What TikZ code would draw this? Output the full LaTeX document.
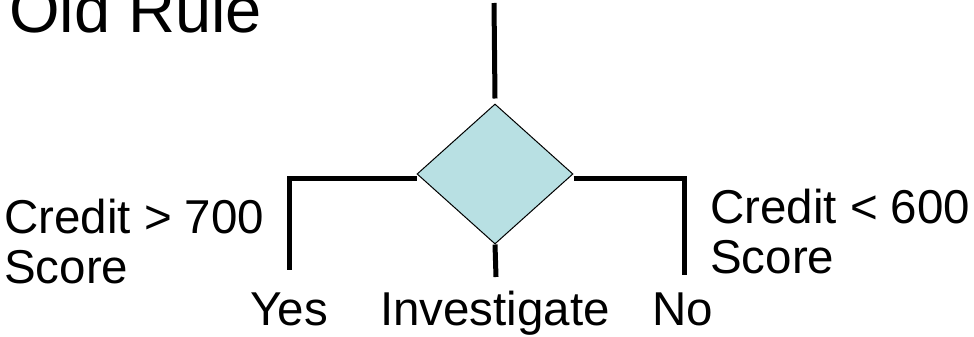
\documentclass[tikz,border=0pt]{standalone}
\usepackage{fontspec}
\setmainfont{Liberation Sans}
\usetikzlibrary{shapes.geometric,positioning,calc}
\definecolor{rulecol}{HTML}{B8E0E3}
\tikzstyle{branch} = [line width=5pt,black]
\tikzset{
  decision/.style = {
    shape = diamond,
    draw = black,
    line width = 1pt,
    fill = #1,
    inner sep = 0pt,
    minimum width = 156pt,
    minimum height = 140pt,
    },
  label text/.style = {
    font = \fontsize{47.5}{50}\selectfont,
    inner sep = 0pt,
    anchor = base,
    },
  case text/.style = {
    label text,
    align = left,
    anchor = base west,
    },
  title text/.style = {
    font = \fontsize{65}{68}\selectfont,
    inner sep = 0pt,
    anchor = base west,
    },
}

\begin{document}
\begin{tikzpicture}[x=1pt,y=-1pt]
    \useasboundingbox (0,0) rectangle (974,337);

    % title
    \node [title text] (title) at (9,33) {Old Rule};

    % decision
    \node [decision=rulecol] (rule) at (495,174) {};
    \coordinate (start) at (494,3);

    % outcomes
    \node [label text] (yes) at (289,325) {Yes};
    \node [label text] (inv) at (495,325) {Investigate};
    \node [label text] (no) at (683,325) {No};

    \coordinate (yes end) at (289,270);
    \coordinate (inv end) at (496,277);
    \coordinate (no end) at (684,275);

    % conditions (base is the last line)
    \node [case text] (high) at (4,283) {Credit > 700\\Score};
    \node [case text] (low) at (710,273) {Credit < 600\\Score};

    % Paths
    \draw[branch] (start) -- ([yshift=5pt]rule.north);
    \draw[branch] ([yshift=-4pt]rule.west) -| (yes end);
    \draw[branch] ([yshift=-4pt]rule.east) -| (no end);
    \draw[branch] (rule.south) -- (inv end);
\end{tikzpicture}
\end{document}
